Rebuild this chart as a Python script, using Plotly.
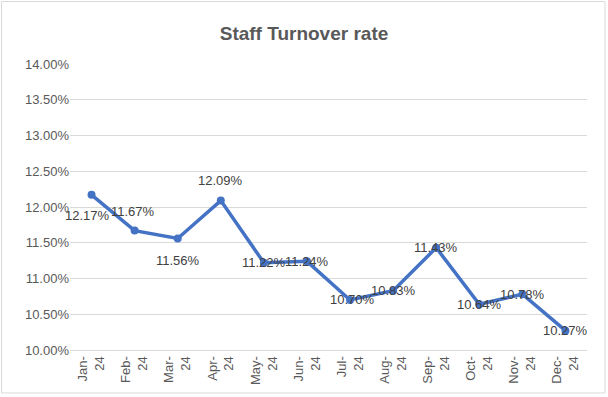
import plotly.graph_objects as go

months = ["Jan-24", "Feb-24", "Mar-24", "Apr-24", "May-24", "Jun-24",
          "Jul-24", "Aug-24", "Sep-24", "Oct-24", "Nov-24", "Dec-24"]
turnover = [0.1217, 0.1167, 0.1156, 0.1209, 0.1122, 0.1124,
            0.1070, 0.1083, 0.1143, 0.1064, 0.1078, 0.1027]
y_ticks = [0.10, 0.105, 0.11, 0.115, 0.12, 0.125, 0.13, 0.135, 0.14]

# vertical label offsets in pixels (style, Excel auto label placement)
label_shift = [-21, 19, -22, 20, 0, 0, 0, 0, 0, 0, 0, 0]
label_xshift = [-4, -2, 0, 0, 0, 0, 2, 0, 0, 0, 0, 0]

FONT = "Liberation Sans, Arial, sans-serif"

fig = go.Figure()
fig.add_trace(go.Scatter(
    x=months, y=turnover,
    mode="lines+markers",
    line=dict(color="#4472C4", width=3.5),
    marker=dict(color="#4472C4", size=8),
    cliponaxis=False,
    hoverinfo="x+y",
))

annotations = [
    dict(x=m, y=v, xref="x", yref="y", text=f"{v*100:.2f}%", showarrow=False,
         yshift=ys, xshift=xs, font=dict(family=FONT, size=13, color="#404040"))
    for m, v, ys, xs in zip(months, turnover, label_shift, label_xshift)
]

fig.update_layout(
    width=608, height=397,
    margin=dict(l=70, r=21, t=64, b=47),
    paper_bgcolor="white", plot_bgcolor="white",
    showlegend=False,
    title=dict(text="<b>Staff Turnover rate</b>", x=0.5, xanchor="center",
               y=1 - 33 / 397, yanchor="middle",
               font=dict(family=FONT, size=19, color="#595959")),
    xaxis=dict(
        type="category", range=[-0.5, len(months) - 0.5],
        tickmode="array", tickvals=months,
        ticktext=[m.replace("-", "-<br>") for m in months],
        tickangle=-90,
        tickfont=dict(family=FONT, size=13, color="#595959"),
        showgrid=False, showline=True, linecolor="#D9D9D9", linewidth=1,
        ticks="", zeroline=False, automargin=False,
    ),
    yaxis=dict(
        range=[0.10, 0.14], tickvals=y_ticks, tickformat=".2%",
        tickfont=dict(family=FONT, size=13, color="#595959"),
        showgrid=True, gridcolor="#D9D9D9", gridwidth=1,
        showline=False, zeroline=False, ticks="", automargin=False,
    ),
    annotations=annotations,
    shapes=[dict(type="rect", xref="paper", yref="paper",
                 x0=(1.5 - 70) / 517, x1=(605 - 70) / 517,
                 y0=-(393 - 350) / 286, y1=1 + (64 - 1.5) / 286,
                 line=dict(color="#D9D9D9", width=1))],
)

fig.write_html("out.html", config={"displayModeBar": False},
               post_script="document.body.style.margin='0';document.body.style.overflow='hidden';")
